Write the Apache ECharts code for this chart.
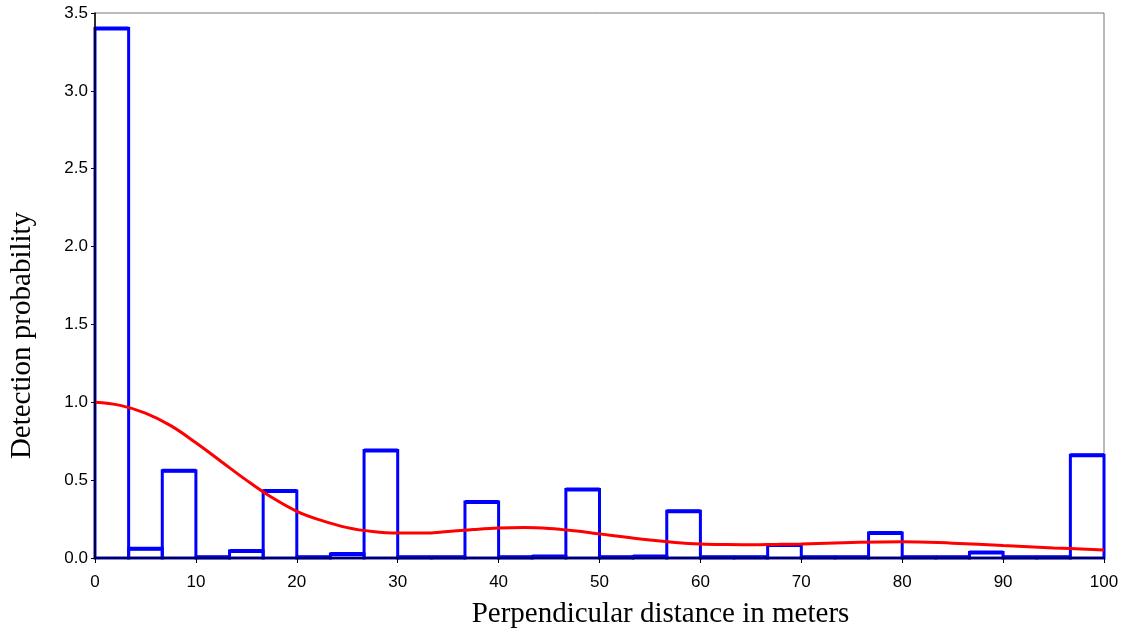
<!DOCTYPE html>
<html><head><meta charset="utf-8">
<script src="https://cdn.jsdelivr.net/npm/echarts@6/dist/echarts.min.js"></script>
<style>html,body{margin:0;padding:0;background:#fff}#c{width:1127px;height:630px}</style>
</head><body><div id="c"></div>
<script>
// Histogram bins (30 bins from 0 to 100 m)
const binEdges = [0,3.333,6.667,10,13.333,16.667,20,23.333,26.667,30,33.333,36.667,40,43.333,46.667,50,53.333,56.667,60,63.333,66.667,70,73.333,76.667,80,83.333,86.667,90,93.333,96.667,100];
const binValues = [3.40,0.06,0.56,0.005,0.045,0.43,0.005,0.025,0.69,0.005,0.005,0.36,0.005,0.01,0.44,0.005,0.01,0.30,0.005,0.005,0.083,0.005,0.005,0.16,0.005,0.005,0.035,0.005,0.005,0.66];
// Fitted detection function
const curveX = [0,2.5,5,7.5,10,12.5,15,17.5,20,22.5,25,27.5,30,32.5,35,37.5,40,42.5,45,47.5,50,52.5,55,57.5,60,62.5,65,67.5,70,75,80,85,90,95,100];
const curveY = [1.0,0.98,0.93,0.85,0.74,0.62,0.50,0.39,0.30,0.24,0.195,0.17,0.16,0.16,0.17,0.183,0.193,0.196,0.19,0.175,0.155,0.135,0.115,0.10,0.09,0.086,0.085,0.087,0.09,0.10,0.105,0.095,0.08,0.065,0.051];
const yTicks = ['0.0','0.5','1.0','1.5','2.0','2.5','3.0','3.5'];

const histData = binValues.map((v,i)=>[binEdges[i],binEdges[i+1],v]);
const chart = echarts.init(document.getElementById('c'));
chart.setOption({
  animation:false,
  grid:{left:95,right:23,top:13,bottom:72,show:true,borderColor:'#777',borderWidth:1,containLabel:false,outerBoundsMode:'none'},
  xAxis:{type:'value',min:0,max:100,interval:10,z:10,
    name:'Perpendicular distance in meters',nameLocation:'middle',nameGap:42,
    nameTextStyle:{fontFamily:'Liberation Serif',fontSize:29,color:'#000',padding:[0,0,0,122]},
    axisLine:{lineStyle:{color:'#000',width:1.5}},
    axisTick:{show:true,length:5,lineStyle:{color:'#000'}},
    axisLabel:{fontFamily:'Liberation Sans',fontSize:17,color:'#000',margin:16},
    splitLine:{show:false}},
  yAxis:{type:'value',min:0,max:3.5,interval:0.5,z:10,
    name:'Detection probability',nameLocation:'middle',nameGap:58,nameRotate:90,
    nameTextStyle:{fontFamily:'Liberation Serif',fontSize:29,color:'#000',padding:[0,100,0,0]},
    axisLine:{show:true,lineStyle:{color:'#000',width:1.5}},
    axisTick:{show:true,length:4,lineStyle:{color:'#000'}},
    axisLabel:{fontFamily:'Liberation Sans',fontSize:17,color:'#000',margin:7,formatter:(v,i)=>yTicks[i]},
    splitLine:{show:false}},
  series:[
    {type:'custom',z:2,data:histData,encode:{x:[0,1],y:2},
     renderItem:function(params,api){
       const p0=api.coord([api.value(0),0]);
       const p1=api.coord([api.value(1),api.value(2)]);
       return {type:'group',children:[
         {type:'rect',shape:{x:p0[0],y:p1[1],width:p1[0]-p0[0],height:p0[1]-p1[1]},
          style:{fill:'none',stroke:'#0000ff',lineWidth:3}},
         {type:'line',shape:{x1:p0[0],y1:p1[1],x2:p1[0],y2:p1[1]},
          style:{stroke:'#0000ff',lineWidth:4}}
       ]};
     }},
    {type:'line',z:3,smooth:0.4,symbol:'none',data:curveX.map((x,i)=>[x,curveY[i]]),
     lineStyle:{color:'#ff0000',width:3}}
  ]
});
</script></body></html>
